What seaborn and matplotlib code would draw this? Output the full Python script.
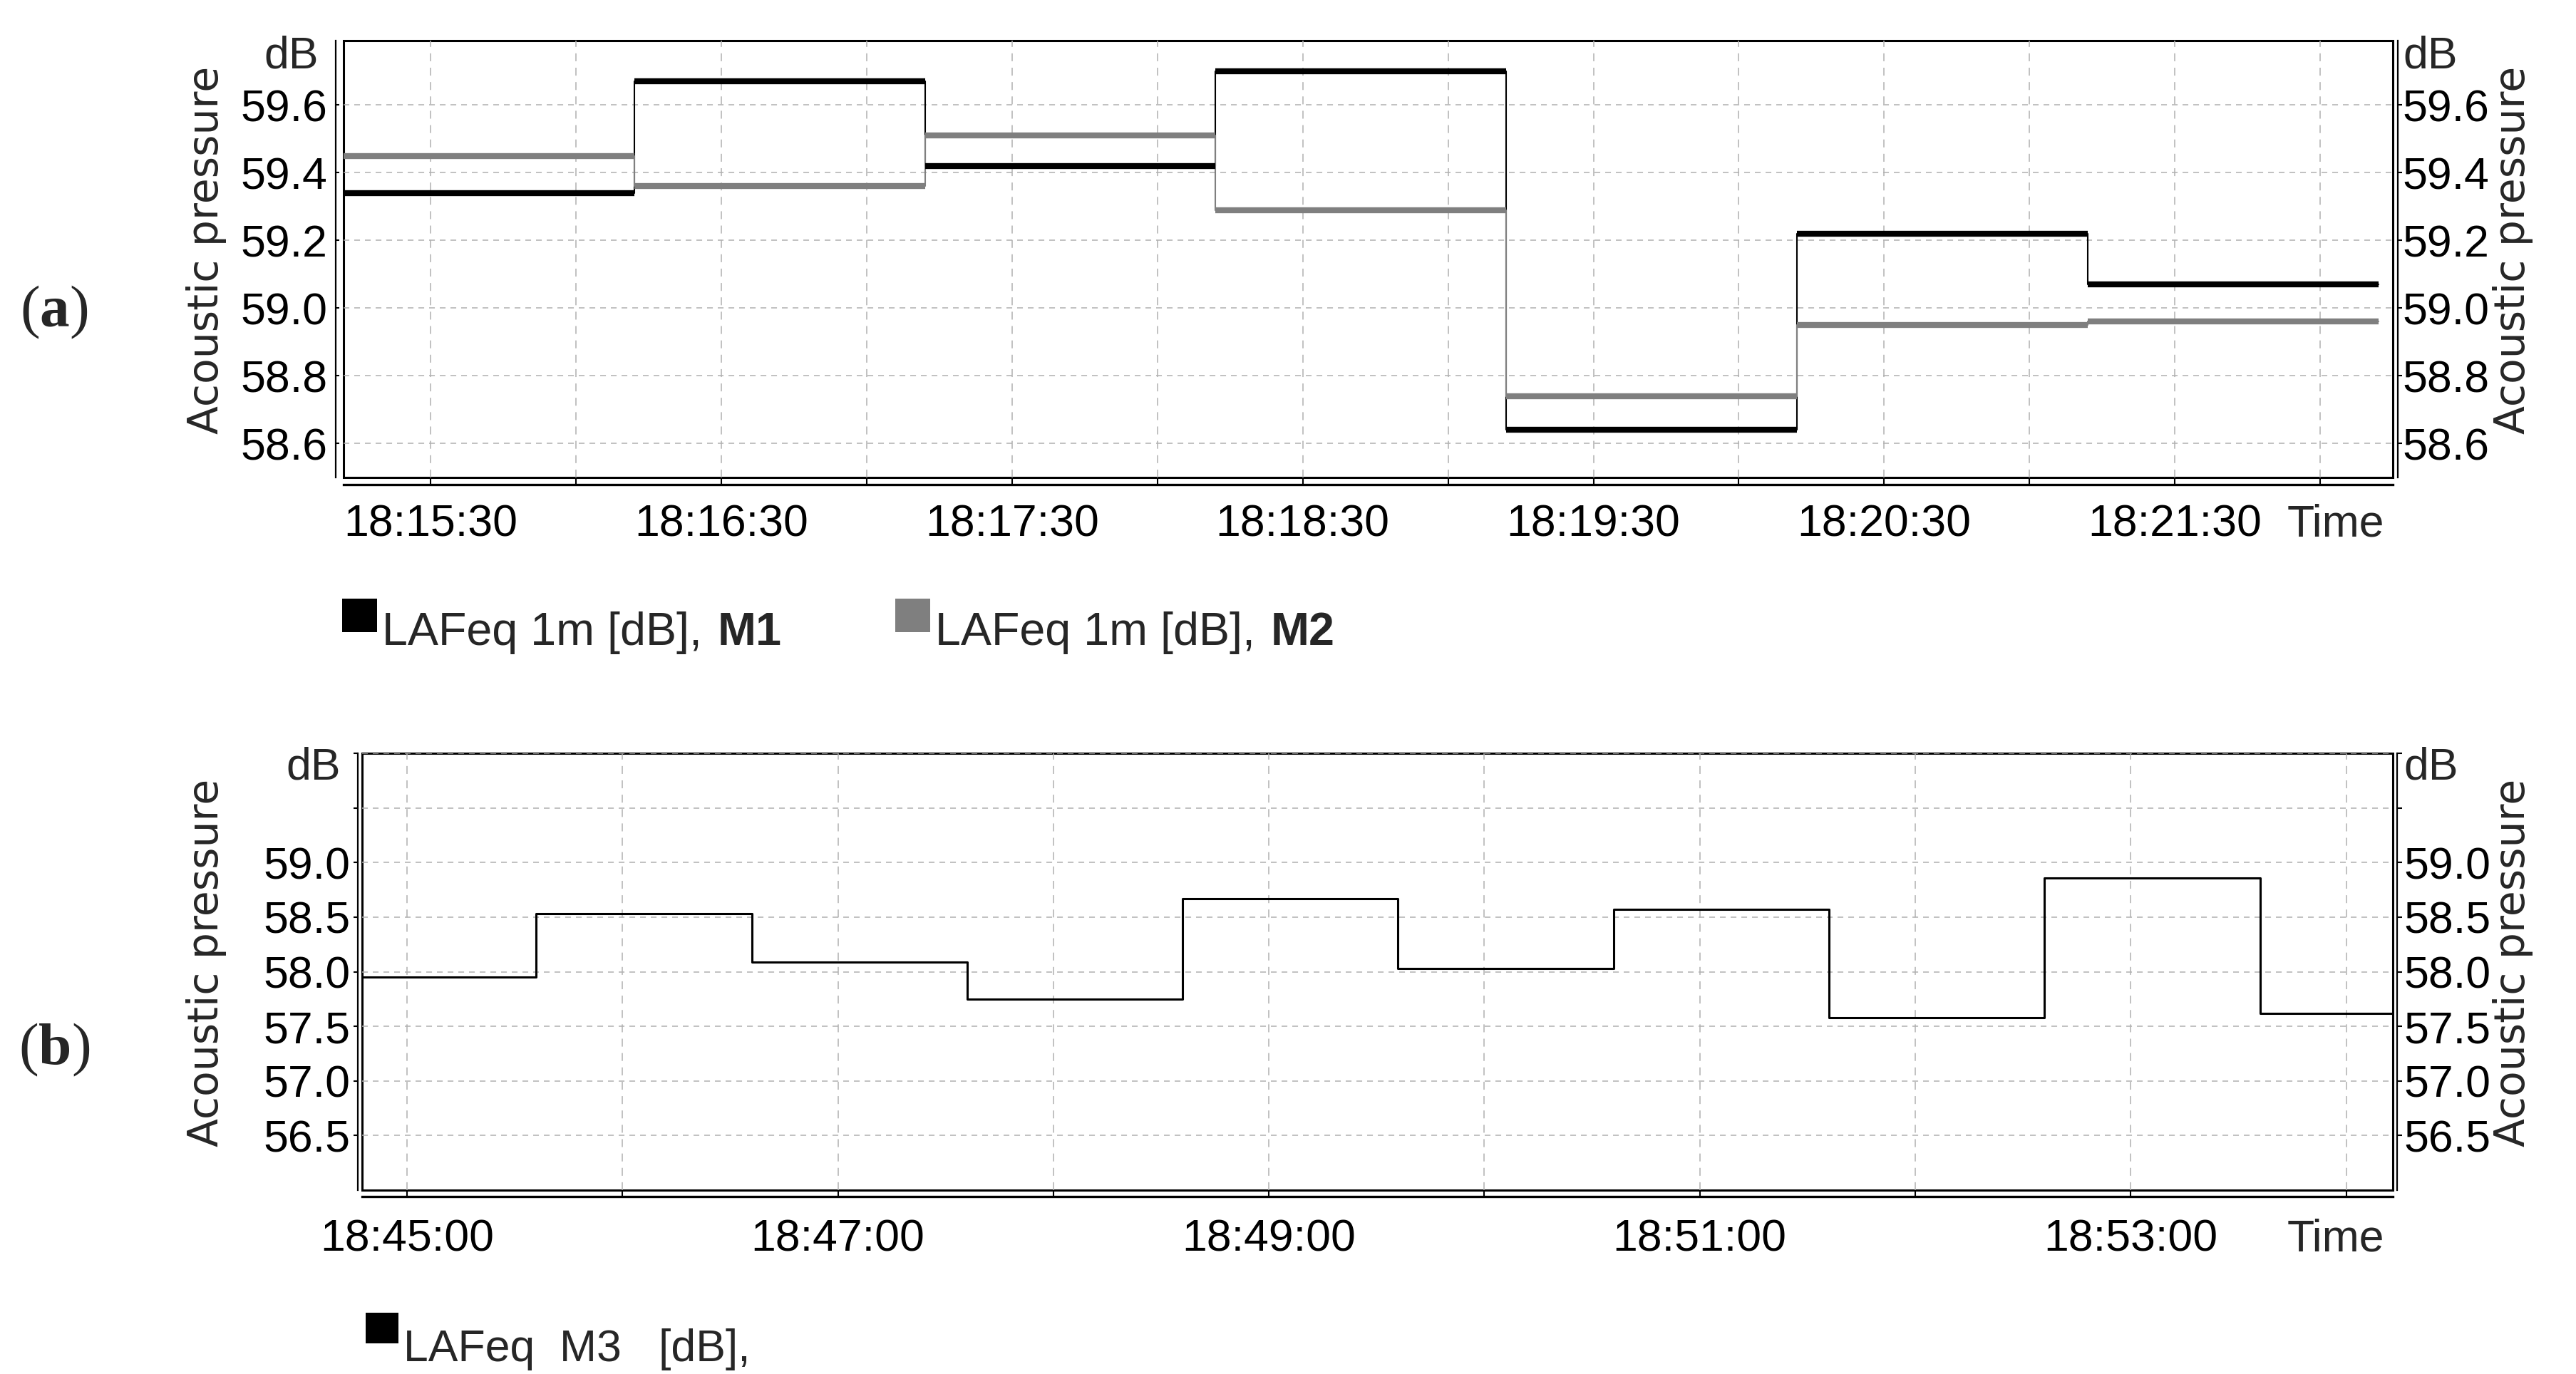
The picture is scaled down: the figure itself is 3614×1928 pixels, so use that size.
import matplotlib
matplotlib.use("Agg")
import matplotlib.pyplot as plt
import matplotlib.dates as mdates
from matplotlib.patches import Rectangle
import pandas as pd
import seaborn as sns

sns.set_style("white")
plt.rcParams["font.family"] = ["Liberation Sans", "DejaVu Sans"]
plt.rcParams["lines.scale_dashes"] = False

W, H = 3614, 1928
day = "2020-01-01 "   # date not shown, only the clock time matters

# (a) 1 minute LAFeq, two meters, step start times (last one = end of data)
a_clock = ["18:15:12", "18:16:12", "18:17:12", "18:18:12", "18:19:12",
           "18:20:12", "18:21:12", "18:22:12"]
a_m1 = [59.34, 59.67, 59.42, 59.70, 58.64, 59.22, 59.07]
a_m2 = [59.45, 59.36, 59.51, 59.29, 58.74, 58.95, 58.96]
a_yticks = [58.6, 58.8, 59.0, 59.2, 59.4, 59.6]
a_ylabels = ["58.6", "58.8", "59.0", "59.2", "59.4", "59.6"]

# (b) LAFeq M3
b_clock = ["18:44:36", "18:45:36", "18:46:36", "18:47:36", "18:48:36", "18:49:36",
           "18:50:36", "18:51:36", "18:52:36", "18:53:36", "18:54:36"]
b_m3 = [57.95, 58.53, 58.09, 57.75, 58.67, 58.03, 58.57, 57.58, 58.86, 57.62]
b_yticks = [56.5, 57.0, 57.5, 58.0, 58.5, 59.0, 59.5, 60.0]
b_ylabels = ["56.5", "57.0", "57.5", "58.0", "58.5", "59.0", "", ""]

GRAY = "#7f7f7f"
GRID = "#b0b0b0"
FS = 45


def fx(px):
    return px / W


def fy(py):
    return 1 - py / H


def tnum(clock):
    return mdates.date2num(pd.to_datetime([day + c for c in clock], format="mixed").to_numpy())


def panel_frame(ax, ylim, yticks, ylabels, xticks, xlabels, xlim, left_dir, off_l, off_b, off_r,
                pad_l, pad_b, pad_r, len_l, len_r):
    ax.set_xlim(tnum(xlim))
    ax.set_ylim(ylim)
    ax.set_xlabel("")
    ax.set_ylabel("")
    ax.set_yticks(yticks)
    ax.set_yticklabels(ylabels)
    ax.set_xticks(mdates.date2num(xticks.to_numpy()))
    ax.set_xticklabels(xlabels)
    ax.set_axisbelow(True)
    ax.grid(axis="x", color=GRID, lw=1.1, linestyle=(0, (8, 6.5)))
    ax.grid(axis="y", color=GRID, lw=1.1, linestyle=(0, (5.8, 5)))
    ax.patch.set_edgecolor("black")
    ax.patch.set_linewidth(2.2)
    for s in ["top", "right"]:
        ax.spines[s].set_visible(False)
    ax.spines["left"].set_position(("outward", off_l))
    ax.spines["bottom"].set_position(("outward", off_b))
    ax.spines["left"].set_linewidth(1.6)
    ax.spines["bottom"].set_linewidth(2.4)
    for s in ["left", "bottom"]:
        ax.spines[s].set_color("black")
    ax.tick_params(axis="y", direction=left_dir, length=len_l, width=1.5, pad=pad_l,
                   labelsize=FS, colors="black", left=True)
    ax.tick_params(axis="x", direction="in", length=off_b, width=1.5, pad=pad_b,
                   labelsize=FS, colors="black", bottom=True)

    ax2 = ax.twinx()
    ax2.set_ylim(ylim)
    ax2.set_yticks(yticks)
    ax2.set_yticklabels(ylabels)
    ax2.grid(False)
    for s in ["left", "top", "bottom"]:
        ax2.spines[s].set_visible(False)
    ax2.spines["right"].set_position(("outward", off_r))
    ax2.spines["right"].set_linewidth(1.6)
    ax2.spines["right"].set_color("black")
    ax2.tick_params(axis="y", direction="out", length=len_r, width=1.5, pad=pad_r,
                    labelsize=FS, colors="black", right=True)

    # axis titles
    ylab = dict(rotation=90, ha="center", va="center", fontsize=42,
                family=["DejaVu Sans"], transform=ax.transAxes)
    pos = ax.get_position()
    ax.text((fx(289) - pos.x0) / pos.width, 0.52, "Acoustic pressure", **ylab)
    ax.text((fx(3526) - pos.x0) / pos.width, 0.52, "Acoustic pressure", **ylab)
    ax.annotate("Time", xy=(1, 0), xycoords="axes fraction", xytext=(-8.5, -(off_b + pad_b)),
                textcoords="offset points", ha="right", va="top", fontsize=FS)
    return ax2


def chain(fig, anchor, parts, x, y, **kw):
    # place text pieces one after another on the same baseline
    t = fig.text(fx(x), fy(y), parts[0][0], va="baseline", ha="left", **parts[0][1], **kw)
    prev = t
    for txt, extra, gap in parts[1:]:
        prev = anchor.annotate(txt, xy=(1, 0), xycoords=prev, xytext=(gap, 0),
                               textcoords="offset points", va="bottom", ha="left",
                               annotation_clip=False, **extra, **kw)
    return t


fig = plt.figure(figsize=(W / 100, H / 100), dpi=100)
ax_a = fig.add_axes([fx(482), fy(670), fx(3357) - fx(482), (670 - 57) / H])
ax_b = fig.add_axes([fx(508), fy(1670), fx(3357) - fx(508), (1670 - 1057) / H])

# ---- panel (a)
df_a = pd.DataFrame({"time": pd.to_datetime([day + c for c in a_clock]),
                     "M1": a_m1 + [a_m1[-1]], "M2": a_m2 + [a_m2[-1]]})
sns.lineplot(data=df_a, x="time", y="M1", drawstyle="steps-post", color="black",
             lw=1.5, estimator=None, ax=ax_a)
sns.lineplot(data=df_a, x="time", y="M2", drawstyle="steps-post", color=GRAY,
             lw=1.5, estimator=None, ax=ax_a)
ta = tnum(a_clock)
ax_a.hlines(a_m1, ta[:-1], ta[1:], color="black", lw=6, capstyle="butt", zorder=3)
ax_a.hlines(a_m2, ta[:-1], ta[1:], color=GRAY, lw=6, capstyle="butt", zorder=3)

a_xt = pd.date_range(day + "18:15:30", day + "18:22:00", freq="30s")
a_xl = [t.strftime("%H:%M:%S") if t.second == 30 else "" for t in a_xt]
panel_frame(ax_a, (58.5, 59.79), a_yticks, a_ylabels, a_xt, a_xl,
            ["18:15:12", "18:22:15"], "in", 8, 7, 5, 8, 19, 1, 3.6, 4)

# ---- panel (b)
df_b = pd.DataFrame({"time": pd.to_datetime([day + c for c in b_clock]),
                     "M3": b_m3 + [b_m3[-1]]})
sns.lineplot(data=df_b, x="time", y="M3", drawstyle="steps-post", color="black",
             lw=2.2, estimator=None, ax=ax_b)
b_xt = pd.date_range(day + "18:45:00", day + "18:54:00", freq="1min")
b_xl = [t.strftime("%H:%M:%S") if t.minute % 2 == 1 else "" for t in b_xt]
panel_frame(ax_b, (56.0, 60.0), b_yticks, b_ylabels, b_xt, b_xl,
            ["18:44:47.5", "18:54:13.0"], "out", 4.3, 6.5, 4.3, 3, 22, 2, 4.3, 5)

# unit labels at top of the value axes
for x, y, ha in [(447, 50, "right"), (3371, 50, "left"), (478, 1047, "right"), (3372, 1047, "left")]:
    fig.text(fx(x), fy(y), "dB", ha=ha, va="top", fontsize=FS)

# legends
for x0, x1, y0, y1, c in [(480, 529, 840, 887, "black"), (1256, 1305, 840, 887, GRAY),
                          (513, 559, 1842, 1885, "black")]:
    fig.add_artist(Rectangle((fx(x0), fy(y1)), fx(x1) - fx(x0), (y1 - y0) / H,
                             transform=fig.transFigure, color=c, lw=0))
chain(fig, ax_a, [("LAFeq 1m [dB],", {}, 0), ("M1", {"fontweight": "bold"}, 16)], 536, 905, fontsize=46.5)
chain(fig, ax_a, [("LAFeq 1m [dB],", {}, 0), ("M2", {"fontweight": "bold"}, 16)], 1312, 905, fontsize=46.5)
fig.text(fx(566), fy(1910), "LAFeq  M3   [dB],", ha="left", va="baseline", fontsize=FS)

# panel letters
for letter, x, y in [("a", 28, 458), ("b", 26, 1493)]:
    chain(fig, ax_a, [("(", {}, 0), (letter, {"fontweight": "bold"}, 0), (")", {}, 0)], x, y,
          fontsize=60, family=["Liberation Serif"])

fig.savefig("out.png", dpi=100, facecolor="white")
